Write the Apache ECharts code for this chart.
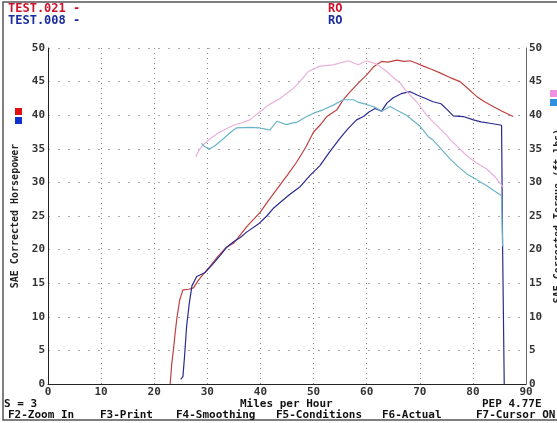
<!DOCTYPE html>
<html lang="en">
<head>
<meta charset="UTF-8">
<title>Dyno</title>
<style>
  html, body { margin: 0; padding: 0; background: #fff; }
  #main { width: 557px; height: 423px; }
</style>
</head>
<body>
<div id="main"></div>
<script src="https://cdn.jsdelivr.net/npm/echarts@6/dist/echarts.min.js"></script>
<script>
// run 021 (red) horsepower: [mph, hp]
var hp021 = [
  [23.0, 0], [23.3, 3], [23.6, 5], [24.0, 8], [24.3, 10], [24.8, 12.5], [25.4, 14.0],
  [26.5, 14.1], [27.4, 14.3], [28.2, 15.3], [29.2, 16.3], [30.5, 17.5], [32, 19],
  [33.5, 20.3], [35, 21], [35.8, 21.8], [37.5, 23.5], [39.9, 25.5], [41.5, 27.3],
  [43.1, 29.0], [45, 31], [46.8, 33.0], [48.5, 35.2], [50.0, 37.5], [51.2, 38.5],
  [52.5, 39.8], [54.4, 40.8], [55.5, 42.2], [56.9, 43.5], [58.7, 45.0], [60.0, 46.0],
  [61.3, 47.2], [62.8, 48.0], [64, 47.9], [65.7, 48.2], [67, 48.0], [68.2, 48.1],
  [69.5, 47.7], [70.7, 47.3], [72.3, 46.8], [73.8, 46.3], [75.7, 45.6], [77.6, 45.0],
  [79, 44.0], [80.7, 42.8], [82.2, 42.0], [83.8, 41.3], [85.5, 40.6], [87.6, 39.8]
];
// run 008 (blue) horsepower
var hp008 = [
  [25.0, 0.7], [25.4, 1.1], [25.7, 4], [26.1, 8.6], [26.6, 12], [27.1, 14.6], [28.0, 16.0],
  [29.6, 16.6], [31, 17.8], [32.5, 19.2], [33.6, 20.3], [35, 21.2], [36.2, 21.8],
  [37.4, 22.6], [39.6, 23.8], [41.2, 25.0], [42.5, 26.2], [43.7, 27.0], [45.5, 28.2],
  [47.4, 29.3], [49.3, 31.0], [51.2, 32.5], [53, 34.5], [55.0, 36.6], [56.5, 38.0],
  [58.1, 39.3], [59.4, 39.8], [60.5, 40.5], [61.6, 41.0], [62.8, 40.6], [63.8, 41.8],
  [65.0, 42.6], [66.5, 43.2], [68.2, 43.5], [69.5, 43.0], [71.3, 42.4], [72.5, 42.0],
  [74.0, 41.7], [75.2, 40.8], [76.3, 39.9], [78.2, 39.8], [80.1, 39.3], [81.5, 39.0],
  [83.2, 38.8], [85.4, 38.5], [85.6, 20], [85.9, 0]
];
// run 021 torque (pink)
var tq021 = [
  [27.8, 33.8], [28.6, 35.0], [29.2, 35.6], [30.5, 36.5], [31.8, 37.2], [32.4, 37.5],
  [34.9, 38.5], [36.2, 38.8], [38.0, 39.3], [39.9, 40.5], [41.5, 41.5], [43.7, 42.5],
  [46.2, 44.0], [47.4, 45.0], [49.0, 46.5], [51.2, 47.3], [53.7, 47.5], [56.5, 48.1],
  [58.4, 47.5], [60.0, 48.1], [61.9, 47.6], [63.8, 46.5], [65, 45.6], [66.3, 44.8],
  [67.5, 43.5], [69.4, 42.0], [71.3, 40.0], [72.5, 39.0], [75.1, 37.0], [75.7, 36.4],
  [78.8, 34.0], [80.5, 33.0], [82.6, 32.0], [84.2, 30.8], [85.7, 29.3]
];
// run 008 torque (light blue)
var tq008 = [
  [28.9, 35.8], [29.5, 35.3], [30.5, 35.0], [31.5, 35.5], [33.0, 36.5], [34.9, 37.8],
  [35.5, 38.1], [38.0, 38.2], [39.9, 38.1], [41.2, 37.9], [41.8, 37.8], [43.1, 39.1],
  [44.9, 38.6], [46.2, 38.9], [46.8, 38.9], [48.7, 39.8], [50.0, 40.3], [51.8, 40.8],
  [53.7, 41.5], [55.6, 42.3], [57.5, 42.3], [58.5, 41.9], [60.0, 41.6], [61.5, 41.2],
  [62.8, 40.6], [64.4, 41.3], [65.5, 40.8], [67.5, 40.0], [70.0, 38.4], [71.6, 36.8],
  [72.5, 36.3], [74, 35], [75.7, 33.5], [77, 32.5], [78.8, 31.3], [80.5, 30.5],
  [82.6, 29.5], [85.4, 28.0], [85.6, 20.5]
];

var mono = '"DejaVu Sans Mono", monospace';
var labelStyle = { color: '#333', fontFamily: mono, fontWeight: 'bold', fontSize: 11 };

var myChart = echarts.init(document.getElementById('main'));

function txt(x, y, s, color, size) {
  return {
    type: 'text', left: x, top: y,
    style: { text: s, fill: color, font: 'bold ' + (size || 11) + 'px ' + mono }
  };
}
function box(x, y, color) {
  return { type: 'rect', shape: { x: x, y: y, width: 7, height: 7 }, style: { fill: color } };
}

var option = {
  animation: false,
  backgroundColor: '#fff',
  grid: { left: 48, right: 31, top: 48, bottom: 39, outerBoundsMode: 'none', containLabel: false },
  xAxis: {
    type: 'value', min: 0, max: 90, interval: 10,
    axisLine: { lineStyle: { color: '#222', width: 1 } },
    axisTick: { show: false },
    axisLabel: Object.assign({ margin: 3 }, labelStyle),
    splitLine: { show: true, lineStyle: { color: '#888', type: [1, 4] } }
  },
  yAxis: [{
    type: 'value', min: 0, max: 50, interval: 5,
    name: 'SAE Corrected Horsepower', nameLocation: 'middle', nameGap: 26, nameRotate: 90,
    nameTextStyle: { color: '#222', fontFamily: mono, fontWeight: 'bold', fontSize: 10 },
    axisLine: { show: true, lineStyle: { color: '#222', width: 1 } },
    axisTick: { show: false },
    axisLabel: Object.assign({ margin: 3 }, labelStyle),
    splitLine: { show: true, lineStyle: { color: '#aaa', type: [2, 8] } }
  }, {
    type: 'value', min: 0, max: 50, interval: 5, position: 'right',
    name: 'SAE Corrected Torque (ft-lbs)', nameLocation: 'middle', nameGap: 24, nameRotate: 90,
    nameTextStyle: { color: '#222', fontFamily: mono, fontWeight: 'bold', fontSize: 10 },
    axisLine: { show: true, lineStyle: { color: '#666', width: 1 } },
    axisTick: { show: false },
    axisLabel: Object.assign({ margin: 3 }, labelStyle),
    splitLine: { show: false }
  }],
  graphic: [
    { type: 'rect', shape: { x: 3, y: 2, width: 560, height: 418 }, style: { fill: 'none', stroke: '#555', lineWidth: 1.5 } },
    txt(8, 3, 'TEST.021 -', '#d0102a', 12),
    txt(8, 15, 'TEST.008 -', '#1a2aa0', 12),
    txt(328, 3, 'RO', '#d0102a', 12),
    txt(328, 15, 'RO', '#1a2aa0', 12),
    box(15, 108, '#e01010'),
    box(15, 117, '#1030d0'),
    box(550, 90, '#f090e0'),
    box(550, 99, '#3090e0'),
    txt(4, 399, 'S = 3', '#111', 11),
    txt(240, 399, 'Miles per Hour', '#111', 11),
    txt(482, 399, 'PEP 4.77E', '#111', 11),
    txt(8, 410, 'F2-Zoom In', '#111', 11),
    txt(100, 410, 'F3-Print', '#111', 11),
    txt(176, 410, 'F4-Smoothing', '#111', 11),
    txt(276, 410, 'F5-Conditions', '#111', 11),
    txt(382, 410, 'F6-Actual', '#111', 11),
    txt(476, 410, 'F7-Cursor ON', '#111', 11)
  ],
  series: [
    { name: 'HP 021', type: 'line', yAxisIndex: 0, showSymbol: false, data: hp021,
      lineStyle: { color: '#c04040', width: 1.2 } },
    { name: 'HP 008', type: 'line', yAxisIndex: 0, showSymbol: false, data: hp008,
      lineStyle: { color: '#2a2a90', width: 1.2 } },
    { name: 'TQ 021', type: 'line', yAxisIndex: 1, showSymbol: false, data: tq021,
      lineStyle: { color: '#eab0dc', width: 1.2 } },
    { name: 'TQ 008', type: 'line', yAxisIndex: 1, showSymbol: false, data: tq008,
      lineStyle: { color: '#6ab4c8', width: 1.2 } }
  ]
};

myChart.setOption(option);
</script>
</body>
</html>
